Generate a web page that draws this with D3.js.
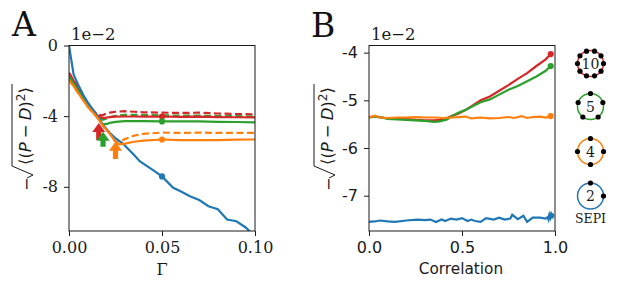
<!DOCTYPE html>
<html>
<head>
<meta charset="utf-8">
<script src="https://cdn.jsdelivr.net/npm/d3@7"></script>
<style>
html, body { margin: 0; padding: 0; background: #fff; }
svg { display: block; }
</style>
</head>
<body>
<svg id="main" width="617" height="292"></svg>
<script>
'use strict';

var blue = '#1f77b4', orange = '#ff7f0e', green = '#2ca02c', red = '#d62728';

// panel A, values are in units of 1e-2
var gammaBlue = [0, 0.0025, 0.005, 0.0077, 0.01, 0.015, 0.0183, 0.022, 0.025, 0.029, 0.035, 0.038, 0.0444, 0.05, 0.056, 0.06, 0.065, 0.07, 0.075, 0.08, 0.085, 0.09, 0.095, 0.097, 0.1];
var blueA = [0, -1.65, -2.24, -2.8, -3.2, -3.95, -4.5, -4.95, -5.25, -5.55, -6.2, -6.55, -7.0, -7.41, -8.05, -8.25, -8.53, -8.75, -9.1, -9.27, -9.85, -9.95, -10.3, -10.5, -10.8];

var gammaGrid = [0, 0.0025, 0.005, 0.0077, 0.01, 0.015, 0.018, 0.02, 0.022, 0.025, 0.03, 0.035, 0.04, 0.05, 0.06, 0.07, 0.08, 0.09, 0.1];
var redSolid = [-1.55, -2.0, -2.45, -2.9, -3.3, -3.95, -4.1, -4.08, -4.05, -4.03, -4.02, -4.02, -4.03, -4.02, -4.04, -4.03, -4.05, -4.06, -4.07];
var redDash = [-1.55, -2.0, -2.45, -2.9, -3.3, -3.9, -3.95, -3.85, -3.8, -3.75, -3.72, -3.75, -3.78, -3.8, -3.82, -3.8, -3.85, -3.88, -3.9];
var greenSolid = [-1.75, -2.15, -2.55, -3.0, -3.35, -4.0, -4.45, -4.45, -4.38, -4.32, -4.28, -4.28, -4.28, -4.3, -4.3, -4.3, -4.32, -4.33, -4.35];
var greenDash = [-1.75, -2.15, -2.55, -3.0, -3.35, -4.0, -4.2, -4.15, -4.05, -3.98, -3.93, -3.92, -3.94, -3.95, -3.97, -3.97, -3.99, -4.0, -4.03];

var gammaOrange = [0, 0.0025, 0.005, 0.0077, 0.01, 0.015, 0.018, 0.022, 0.025, 0.027, 0.03, 0.035, 0.04, 0.05, 0.06, 0.07, 0.08, 0.09, 0.1];
var orangeSolid = [-1.95, -2.3, -2.7, -3.1, -3.45, -4.05, -4.5, -5.0, -5.45, -5.6, -5.55, -5.45, -5.38, -5.32, -5.36, -5.36, -5.36, -5.33, -5.32];
var orangeDash = [-1.95, -2.3, -2.7, -3.1, -3.45, -4.05, -4.5, -5.0, -5.42, -5.45, -5.3, -5.1, -5.0, -4.93, -4.95, -4.93, -4.95, -4.95, -4.94];

var dotGammaA = 0.05;
var arrowGamma = [0.016, 0.0183, 0.025];
var arrowTip = [-4.39, -4.88, -5.45];
var arrowTail = [-5.35, -5.73, -6.43];
var arrowColors = [red, green, orange];

// panel B
var corrUpper = [0, 0.03, 0.07, 0.1, 0.15, 0.2, 0.25, 0.3, 0.35, 0.38, 0.42, 0.45, 0.48, 0.52, 0.56, 0.6, 0.65, 0.7, 0.75, 0.8, 0.85, 0.9, 0.95, 0.977];
var redB = [-5.35, -5.34, -5.36, -5.38, -5.38, -5.39, -5.41, -5.42, -5.42, -5.41, -5.37, -5.32, -5.28, -5.2, -5.1, -5.0, -4.92, -4.8, -4.68, -4.55, -4.43, -4.28, -4.14, -4.03];
var greenB = [-5.36, -5.34, -5.36, -5.39, -5.4, -5.41, -5.42, -5.43, -5.45, -5.44, -5.4, -5.32, -5.26, -5.2, -5.12, -5.04, -4.98, -4.88, -4.78, -4.7, -4.6, -4.5, -4.38, -4.28];

var corrOrange = [0, 0.03, 0.06, 0.1, 0.15, 0.2, 0.25, 0.3, 0.35, 0.4, 0.45, 0.48, 0.52, 0.55, 0.6, 0.65, 0.7, 0.75, 0.78, 0.82, 0.85, 0.88, 0.92, 0.95, 0.977];
var orangeB = [-5.36, -5.32, -5.36, -5.37, -5.36, -5.36, -5.35, -5.36, -5.36, -5.37, -5.36, -5.35, -5.34, -5.38, -5.36, -5.38, -5.37, -5.35, -5.37, -5.33, -5.37, -5.35, -5.34, -5.36, -5.33];

var corrBlue = [0, 0.03, 0.06, 0.1, 0.14, 0.2, 0.26, 0.3, 0.33, 0.36, 0.39, 0.41, 0.44, 0.47, 0.5, 0.53, 0.55, 0.57, 0.6, 0.63, 0.67, 0.7, 0.73, 0.76, 0.77, 0.8, 0.83, 0.85, 0.88, 0.92, 0.95, 0.96, 0.965, 0.97, 0.975, 0.98, 0.985];
var blueB = [-7.55, -7.54, -7.52, -7.54, -7.55, -7.52, -7.5, -7.51, -7.5, -7.55, -7.5, -7.53, -7.48, -7.5, -7.47, -7.53, -7.5, -7.53, -7.55, -7.47, -7.5, -7.46, -7.5, -7.48, -7.4, -7.49, -7.42, -7.55, -7.46, -7.46, -7.48, -7.45, -7.5, -7.4, -7.46, -7.38, -7.42];

var ticksAX = [0, 0.05, 0.1];
var ticksAY = [0, -4, -8];
var ticksBX = [0, 0.5, 1];
var ticksBY = [-4, -5, -6, -7];

var ringNames = ['10', '5', '4', '2'];
var ringColors = [red, green, orange, blue];
var ringDots = [10, 5, 4, 2];
var ringCenterY = [63.5, 106.5, 151.5, 196];
var ringAngle = [-72, -90, -90, -90];

var svg = d3.select('#main');

var serif = '"DejaVu Serif", serif';
var sans = '"DejaVu Sans", sans-serif';
var ink = '#1a1a1a';

function makeLine(x, y) {
    return d3.line()
        .x(function (d) { return x(d[0]); })
        .y(function (d) { return y(d[1]); });
}

function zipped(xs, ys) {
    return xs.map(function (v, i) { return [v, ys[i]]; });
}

function drawAxes(g, x, y, xTicks, yTicks, xFormat, yFormat, font) {
    var bottom = g.append('g')
        .attr('transform', 'translate(0,' + y.range()[0] + ')')
        .call(d3.axisBottom(x).tickValues(xTicks).tickFormat(xFormat).tickSize(5).tickPadding(6));
    var left = g.append('g')
        .attr('transform', 'translate(' + x.range()[0] + ',0)')
        .call(d3.axisLeft(y).tickValues(yTicks).tickFormat(yFormat).tickSize(5).tickPadding(6));

    [bottom, left].forEach(function (a) {
        a.selectAll('text').attr('font-family', font).attr('font-size', 16).attr('fill', ink);
        a.selectAll('line').attr('stroke', ink).attr('stroke-width', 1);
        a.select('.domain').remove();
    });

    g.append('rect')
        .attr('x', x.range()[0])
        .attr('y', y.range()[1])
        .attr('width', x.range()[1] - x.range()[0])
        .attr('height', y.range()[0] - y.range()[1])
        .attr('fill', 'none')
        .attr('stroke', ink)
        .attr('stroke-width', 1);
}

// mathtext label, local x runs up the page
function drawYLabel(cx, cy) {
    var g = svg.append('g').attr('transform', 'translate(' + cx + ',' + cy + ') rotate(-90)');
    g.append('text')
        .attr('x', -55)
        .attr('y', 6)
        .attr('font-family', sans)
        .attr('font-size', 16)
        .attr('fill', ink)
        .text('\u2212');
    g.append('path')
        .attr('d', 'M-42,1 L-39,7 L-30,-14 L52,-14')
        .attr('fill', 'none')
        .attr('stroke', ink)
        .attr('stroke-width', 1);
    var t = g.append('text')
        .attr('x', -29)
        .attr('y', 5)
        .attr('font-family', sans)
        .attr('font-size', 16.5)
        .attr('fill', ink);
    t.append('tspan').text('\u27E8(');
    t.append('tspan').attr('font-style', 'italic').text('P');
    t.append('tspan').attr('dx', 4).text('\u2212');
    t.append('tspan').attr('dx', 4).attr('font-style', 'italic').text('D');
    t.append('tspan').text(')');
    t.append('tspan').attr('font-size', 12).attr('dy', -6).text('2');
    t.append('tspan').attr('dy', 6).text('\u27E9');
}

// panel A
var xA = d3.scaleLinear().domain([0, 0.1]).range([69, 255]);
var yA = d3.scaleLinear().domain([-10.5, 0]).range([231, 45.5]);
var lineA = makeLine(xA, yA);

svg.append('clipPath').attr('id', 'clipA').append('rect')
    .attr('x', 69).attr('y', 45.5).attr('width', 186).attr('height', 185.5);

var gA = svg.append('g');
var marksA = gA.append('g').attr('clip-path', 'url(#clipA)');

var seriesA = [
    { pts: zipped(gammaGrid, redDash), color: red, dash: '7,3.5' },
    { pts: zipped(gammaGrid, greenDash), color: green, dash: '7,3.5' },
    { pts: zipped(gammaOrange, orangeDash), color: orange, dash: '7,3.5' },
    { pts: zipped(gammaGrid, redSolid), color: red, dash: null },
    { pts: zipped(gammaGrid, greenSolid), color: green, dash: null },
    { pts: zipped(gammaBlue, blueA), color: blue, dash: null },
    { pts: zipped(gammaOrange, orangeSolid), color: orange, dash: null }
];

marksA.selectAll('path.curve')
    .data(seriesA)
    .enter()
    .append('path')
    .attr('class', 'curve')
    .attr('d', function (d) { return lineA(d.pts); })
    .attr('fill', 'none')
    .attr('stroke', function (d) { return d.color; })
    .attr('stroke-width', 2.2)
    .attr('stroke-dasharray', function (d) { return d.dash; });

var dotsA = [[redSolid, red], [greenSolid, green], [orangeSolid, orange], [blueA, blue]];
marksA.selectAll('circle')
    .data(dotsA)
    .enter()
    .append('circle')
    .attr('cx', xA(dotGammaA))
    .attr('cy', function (d) {
        var xs = d[0] === blueA ? gammaBlue : (d[0] === orangeSolid ? gammaOrange : gammaGrid);
        return yA(d[0][xs.indexOf(dotGammaA)]);
    })
    .attr('r', 3.1)
    .attr('fill', function (d) { return d[1]; });

// upward block arrows marking the crossover
arrowGamma.forEach(function (g, i) {
    var ax = xA(g), tip = yA(arrowTip[i]), tail = yA(arrowTail[i]);
    var neck = tip + 9;
    var p = d3.path();
    p.moveTo(ax, tip);
    p.lineTo(ax + 6.5, neck);
    p.lineTo(ax + 2.6, neck);
    p.lineTo(ax + 2.6, tail);
    p.lineTo(ax - 2.6, tail);
    p.lineTo(ax - 2.6, neck);
    p.lineTo(ax - 6.5, neck);
    p.closePath();
    gA.append('path').attr('d', p.toString()).attr('fill', arrowColors[i]);
});

drawAxes(gA, xA, yA, ticksAX, ticksAY, d3.format('.2f'), function (d) { return String(d); }, serif);

gA.append('text').attr('x', 71).attr('y', 40).attr('font-family', serif).attr('font-size', 16.5).attr('fill', ink).text('1e\u22122');
gA.append('text').attr('x', 162).attr('y', 275).attr('text-anchor', 'middle').attr('font-family', serif).attr('font-size', 16).attr('fill', ink).text('\u0393');
gA.append('text').attr('x', 12).attr('y', 36).attr('font-family', serif).attr('font-size', 33).attr('fill', '#111').text('A');

drawYLabel(26, 136);

// panel B
var xB = d3.scaleLinear().domain([0, 1]).range([369, 555]);
var yB = d3.scaleLinear().domain([-7.74, -3.85]).range([231, 45.5]);
var lineB = makeLine(xB, yB);

var gB = svg.append('g');
var seriesB = [
    { xs: corrUpper, ys: redB, color: red },
    { xs: corrUpper, ys: greenB, color: green },
    { xs: corrOrange, ys: orangeB, color: orange },
    { xs: corrBlue, ys: blueB, color: blue }
];

gB.selectAll('path.curve')
    .data(seriesB)
    .enter()
    .append('path')
    .attr('class', 'curve')
    .attr('d', function (d) { return lineB(zipped(d.xs, d.ys)); })
    .attr('fill', 'none')
    .attr('stroke', function (d) { return d.color; })
    .attr('stroke-width', 2.2);

gB.selectAll('circle')
    .data(seriesB)
    .enter()
    .append('circle')
    .attr('cx', function (d) { return xB(d.xs[d.xs.length - 1]) - (d.color === blue ? 1 : 0); })
    .attr('cy', function (d) { return yB(d.ys[d.ys.length - 1]); })
    .attr('r', 3.1)
    .attr('fill', function (d) { return d.color; });

drawAxes(gB, xB, yB, ticksBX, ticksBY, d3.format('.1f'), function (d) { return String(d); }, sans);

gB.append('text').attr('x', 371).attr('y', 40).attr('font-family', serif).attr('font-size', 16.5).attr('fill', ink).text('1e\u22122');
gB.append('text').attr('x', 461).attr('y', 274).attr('text-anchor', 'middle').attr('font-family', sans).attr('font-size', 15.3).attr('fill', ink).text('Correlation');
gB.append('text').attr('x', 311).attr('y', 37).attr('font-family', serif).attr('font-size', 33).attr('fill', '#111').text('B');

drawYLabel(328, 136);

// ring icons on the right
var ringX = 590.5, ringR = 13;
var rings = svg.selectAll('g.ring')
    .data(ringNames)
    .enter()
    .append('g')
    .attr('class', 'ring')
    .attr('transform', function (d, i) { return 'translate(' + ringX + ',' + ringCenterY[i] + ')'; });

rings.append('circle')
    .attr('r', ringR)
    .attr('fill', 'none')
    .attr('stroke', function (d, i) { return ringColors[i]; })
    .attr('stroke-width', 1.5);

rings.each(function (d, i) {
    var n = i === 3 ? 4 : ringDots[i];
    var count = ringDots[i];
    var pts = d3.range(count).map(function (k) {
        var a = (ringAngle[i] + k * 360 / n) * Math.PI / 180;
        return [ringR * Math.cos(a), ringR * Math.sin(a)];
    });
    d3.select(this).selectAll('circle.node')
        .data(pts)
        .enter()
        .append('circle')
        .attr('class', 'node')
        .attr('cx', function (p) { return p[0]; })
        .attr('cy', function (p) { return p[1]; })
        .attr('r', 2.6)
        .attr('fill', '#000');
});

rings.append('text')
    .attr('text-anchor', 'middle')
    .attr('y', 5)
    .attr('font-family', serif)
    .attr('font-size', 14)
    .attr('fill', ink)
    .text(function (d) { return d; });

svg.append('text')
    .attr('x', ringX)
    .attr('y', 223)
    .attr('text-anchor', 'middle')
    .attr('font-family', serif)
    .attr('font-size', 12.5)
    .attr('fill', ink)
    .text('SEPI');
</script>
</body>
</html>
